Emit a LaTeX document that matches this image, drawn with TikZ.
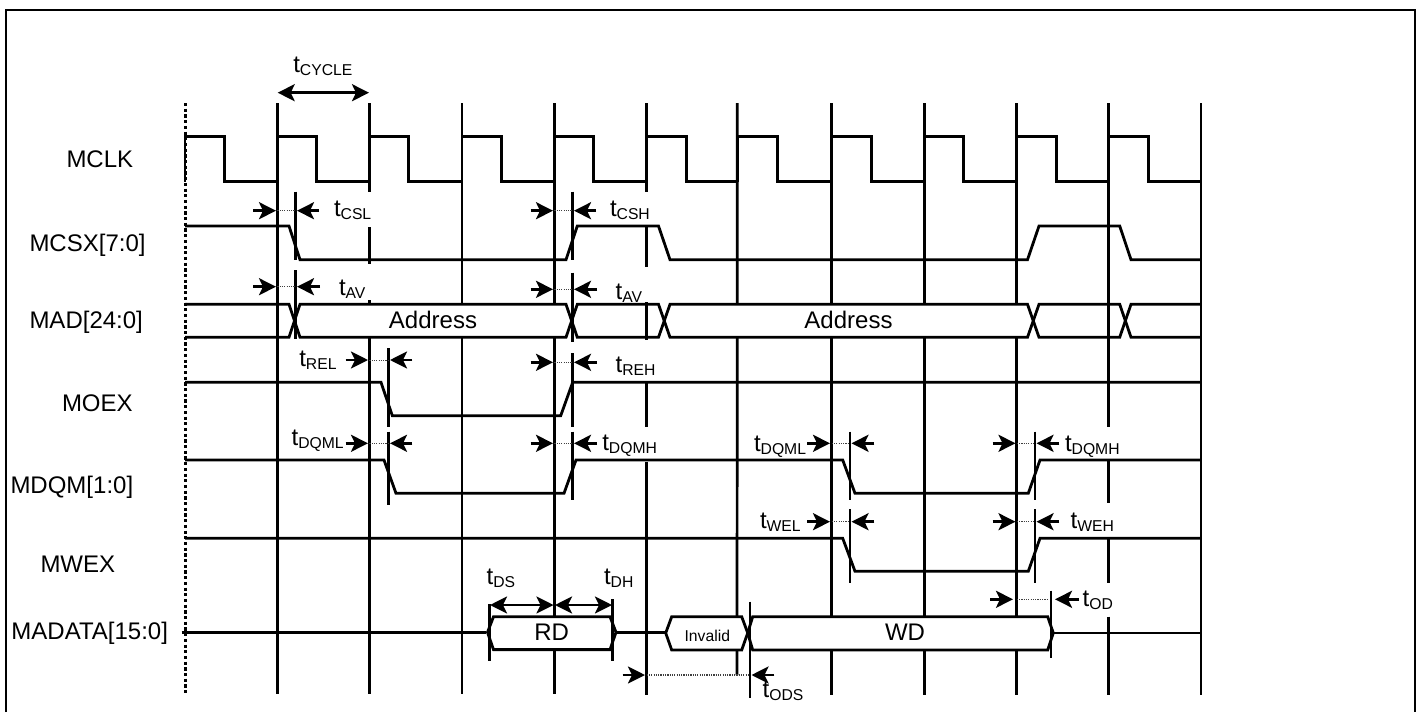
\documentclass[tikz,border=0pt]{standalone}
\usepackage{fontspec}
\setmainfont{Liberation Sans}
\usetikzlibrary{arrows.meta}
\tikzset{
  grid/.style={line width=2.7pt,black},
  sig/.style={line width=2.8pt,black,line join=miter},
  tick/.style={line width=2.7pt,black},
  tarr/.style={line width=2.7pt,black,-{Stealth[length=17pt,width=17pt,inset=4pt]}},
  dbl/.style={line width=2.7pt,black,{Stealth[length=17pt,width=17pt,inset=4pt]}-{Stealth[length=17pt,width=17pt,inset=4pt]}},
  dots/.style={line width=1pt,black!75,dash pattern=on 1.2pt off 1.1pt},
  lab/.style={inner sep=0pt,outer sep=0pt,anchor=base west,font=\fontsize{24}{24}\selectfont},
  mid/.style={inner sep=0pt,outer sep=0pt,anchor=base,font=\fontsize{24}{24}\selectfont},
}
\newcommand{\sbs}[1]{\raisebox{-3pt}{\fontsize{15.7}{16}\selectfont #1}}
\newcommand{\tlab}[4]{\node[lab] (#1) at (#2,#3) {t\sbs{#4}};}
\begin{document}
\begin{tikzpicture}[x=1pt,y=-1pt]
\useasboundingbox (0,0) rectangle (1421,712);
% frame
\draw[line width=2.4pt,line join=miter] (6,712) -- (6,10) -- (1415,10) -- (1415,712);
% grid
\draw[line width=3pt,dash pattern=on 3.2pt off 2.5pt] (185,103) -- (185,694);
\draw[grid] (277.3,103) -- (277.3,694);
\draw[grid] (369.3,103) -- (369.3,191.7) (369.3,227) -- (369.3,264) (369.3,300) -- (369.3,304) (369.3,338) -- (369.3,694);
\draw[grid] (462,103) -- (462,304) (462,338) -- (462,694);
\draw[grid] (554.3,103) -- (554.3,304) (554.3,338) -- (554.3,616.7) (554.3,650) -- (554.3,694);
\draw[grid] (646.6,103) -- (646.6,191.7) (646.6,226.7) -- (646.6,266.7) (646.6,302) -- (646.6,340) (646.6,381.7) -- (646.6,426.7) (646.6,461.7) -- (646.6,695);
\draw[grid] (737.3,103) -- (737.3,304) (737.3,338) -- (737,616.7) (737,650) -- (737,675);
\draw[grid] (831.6,103) -- (831.6,304) (831.6,338) -- (831.6,616.7) (831.6,650) -- (831.6,695);
\draw[grid] (924.2,103) -- (924.2,304) (924.2,338) -- (924.2,616.7) (924.2,650) -- (924.2,695);
\draw[grid] (1016.7,103) -- (1016.7,304) (1016.7,338) -- (1016.7,616.7) (1016.7,650) -- (1016.7,695);
\draw[grid] (1108.8,103) -- (1108.8,426.7) (1108.8,460) -- (1108.8,503) (1108.8,538) -- (1108.8,582.7) (1108.8,616.7) -- (1108.8,695);
\draw[grid] (1201,103) -- (1201,695);
% MCLK
\foreach \a/\b in {185/277.3,277.3/369.3,369.3/462,462/554.3,554.3/646.6,646.6/738,738/831.6,831.6/924.2,924.2/1016.7,1016.7/1108.8,1108.8/1201}{
  \draw[sig] (\a,181.7) -- (\a,136.7) -- ({\a+39.5},136.7) -- ({\a+39.5},181.7) -- (\b,181.7);
}
% MCSX
\draw[sig] (185,226) -- (289,226) -- (300,259.7) -- (566,259.7) -- (577.3,226) -- (658.5,226) -- (670,259.7) -- (1027.5,259.7) -- (1039,226) -- (1119.7,226) -- (1131,259.7) -- (1201,259.7);
% MAD
\draw[sig] (185,304.3) -- (289,304.3) -- (300,337.3) -- (566,337.3) -- (577.3,304.3) -- (658.5,304.3) -- (670,337.3) -- (1027.5,337.3) -- (1039,304.3) -- (1119.7,304.3) -- (1131,337.3) -- (1201,337.3);
\draw[sig] (185,337.3) -- (289,337.3) -- (300,304.3) -- (566,304.3) -- (577.3,337.3) -- (658.5,337.3) -- (670,304.3) -- (1027.5,304.3) -- (1039,337.3) -- (1119.7,337.3) -- (1131,304.3) -- (1201,304.3);
% MOEX
\draw[sig] (185,382.3) -- (381,382.3) -- (392.3,415.7) -- (560.7,415.7) -- (572.7,382.3) -- (1201,382.3);
% MDQM
\draw[sig] (185,460) -- (384,460) -- (396,493.3) -- (564,493.3) -- (576,460) -- (842.7,460) -- (855,493.3) -- (1028.3,493.3) -- (1040,460) -- (1201,460);
% MWEX
\draw[sig] (185,538.3) -- (842.7,538.3) -- (855,571.3) -- (1028.3,571.3) -- (1040,538.3) -- (1201,538.3);
% MADATA
\draw[sig] (181.7,632.3) -- (486,632.3);
\draw[sig] (493.5,616.7) -- (610,616.7) -- (616,632.3) -- (610,649.6) -- (493.5,649.6) -- (487.5,632.3) -- cycle;
\draw[sig] (616,632.8) -- (665.7,632.8);
\draw[sig] (671.7,616.7) -- (741.7,616.7) -- (747.7,633) -- (741.7,650) -- (671.7,650) -- (665.7,633) -- cycle;
\draw[sig] (752.7,616.7) -- (1047.7,616.7) -- (1053.3,633) -- (1047.7,650) -- (752.7,650) -- (747.7,633) -- cycle;
\draw[sig] (1053.3,633) -- (1201,633);
% marker ticks
\draw[tick] (295.7,191.7) -- (295.7,260) (295.7,270) -- (295.7,339);
\draw[tick] (572.7,191.7) -- (572.7,260) (572.7,272.7) -- (572.7,341.7) (572.7,353.3) -- (572.7,426.7) (572.7,431.7) -- (572.7,500);
\draw[tick] (388.3,348) -- (388.3,426.7) (388.3,431.7) -- (388.3,505);
\draw[tick] (850,431.7) -- (850,500) (850,509.3) -- (850,583.3);
\draw[tick] (1035,431.7) -- (1035,500) (1035,509.3) -- (1035,583.3);
\draw[tick] (1051,590.7) -- (1051,658.3);
\draw[tick] (750,601.7) -- (750,697.7);
\draw[tick] (489.3,604.3) -- (489.3,661);
\draw[tick] (612.3,599.3) -- (612.3,661);
% dotted extension lines
\draw[dots] (277.3,210.7) -- (295.7,210.7) (554.3,210.7) -- (572.7,210.7)
  (277.3,286.7) -- (295.7,286.7) (554.3,289.3) -- (572.7,289.3)
  (369.3,360) -- (388.3,360) (554.3,362.3) -- (572.7,362.3)
  (369.3,443.3) -- (388.3,443.3) (554.3,443.3) -- (572.7,443.3)
  (831.6,443.3) -- (850,443.3) (1016.7,443.3) -- (1035,443.3)
  (831.6,521.7) -- (850,521.7) (1016.7,521.7) -- (1035,521.7)
  (1016.7,599.3) -- (1047,599.3);
\draw[dots,line width=1.3pt] (646.6,675) -- (750,675);
% arrows
\draw[tarr] (253.3,210.7) -- (276,210.7);
\draw[tarr] (319,210.7) -- (297,210.7);
\draw[tarr] (530.7,210.7) -- (553,210.7);
\draw[tarr] (596,210.7) -- (574,210.7);
\draw[tarr] (253.3,286.7) -- (276,286.7);
\draw[tarr] (320,286.7) -- (297,286.7);
\draw[tarr] (530.7,289.3) -- (553,289.3);
\draw[tarr] (597,289.3) -- (574,289.3);
\draw[tarr] (345.7,360) -- (368,360);
\draw[tarr] (412.3,360) -- (390,360);
\draw[tarr] (530.7,362.3) -- (553,362.3);
\draw[tarr] (597,362.3) -- (574,362.3);
\draw[tarr] (345.7,443.3) -- (368,443.3);
\draw[tarr] (412.3,443.3) -- (390,443.3);
\draw[tarr] (530.7,443.3) -- (553,443.3);
\draw[tarr] (597,443.3) -- (574,443.3);
\draw[tarr] (807.3,443.3) -- (830,443.3);
\draw[tarr] (874.3,443.3) -- (851.5,443.3);
\draw[tarr] (992.7,443.3) -- (1015.5,443.3);
\draw[tarr] (1059.3,443.3) -- (1036.5,443.3);
\draw[tarr] (807.3,521.7) -- (830,521.7);
\draw[tarr] (874.3,521.7) -- (851.5,521.7);
\draw[tarr] (992.7,521.7) -- (1015.5,521.7);
\draw[tarr] (1059.3,521.7) -- (1036.5,521.7);
\draw[tarr] (990,599.3) -- (1013,599.3);
\draw[tarr] (1079,599.3) -- (1055,599.3);
\draw[tarr] (622.7,675) -- (645,675);
\draw[tarr] (774.3,675) -- (751.5,675);
\draw[dbl] (277.7,92.7) -- (369,92.7);
\draw[dbl] (490,605) -- (553.5,605);
\draw[dbl] (555,605) -- (612,605);
% signal names
\node[lab] (mclk) at (66.5,167.7) {MCLK};
\node[lab] (mcsx) at (29.5,251.7) {MCSX[7:0]};
\node[lab] (mad) at (29.5,328.3) {MAD[24:0]};
\node[lab] (moex) at (62,411.7) {MOEX};
\node[lab] (mdqm) at (10.5,493.5) {MDQM[1:0]};
\node[lab] (mwex) at (40.5,572.7) {MWEX};
\node[lab] (madata) at (11.5,639) {MADATA[15:0]};
% bus contents
\node[mid] (addr1) at (433,328.5) {Address};
\node[mid] (addr2) at (848.5,328.5) {Address};
\node[mid] (rd) at (551.7,640.5) {RD};
\node[mid,font=\fontsize{15.7}{16}\selectfont] (inv) at (707.3,641) {Invalid};
\node[mid] (wd) at (905,640.5) {WD};
% timing labels
\tlab{tcycle}{293.3}{72.7}{CYCLE}
\tlab{tcsl}{334}{216.7}{CSL}
\tlab{tcsh}{610}{216.7}{CSH}
\tlab{tav}{339}{295}{AV}
\tlab{tavb}{615.7}{299.3}{AV}
\tlab{trel}{299.3}{366.5}{REL}
\tlab{treh}{615.7}{372.7}{REH}
\tlab{tdqml}{291.7}{445.3}{DQML}
\tlab{tdqmh}{602.3}{450}{DQMH}
\tlab{tdqmlb}{754}{451}{DQML}
\tlab{tdqmhb}{1065}{451}{DQMH}
\tlab{twel}{760}{528.3}{WEL}
\tlab{tweh}{1070.7}{528.3}{WEH}
\tlab{tod}{1082.7}{606.7}{OD}
\tlab{tods}{762.7}{697.7}{ODS}
\tlab{tds}{486.7}{584}{DS}
\tlab{tdh}{604}{584}{DH}
\end{tikzpicture}
\end{document}
